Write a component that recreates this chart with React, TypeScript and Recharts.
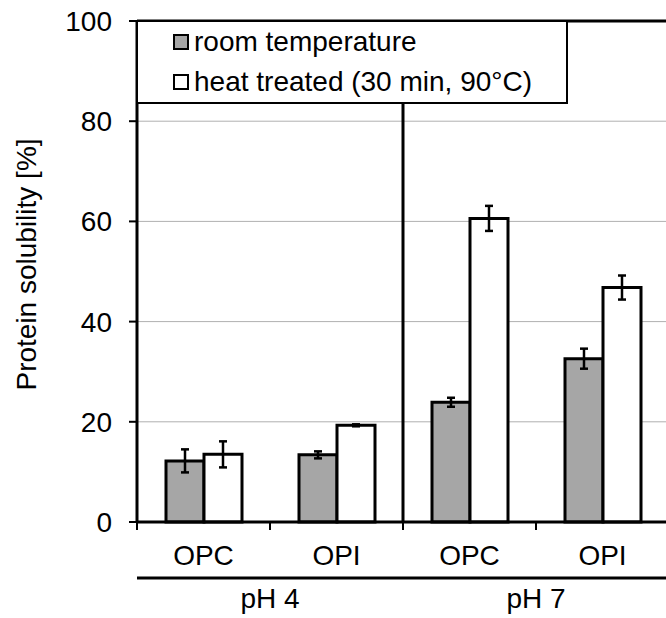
import { BarChart, Bar, XAxis, YAxis, CartesianGrid, ErrorBar, ReferenceLine, Legend } from 'recharts'

// values
const categories = ['OPC', 'OPI', 'OPC', 'OPI']
const groups = ['pH 4', 'pH 4', 'pH 7', 'pH 7']
const roomTemp = [12.2, 13.4, 23.9, 32.6]
const roomTempErr = [2.3, 0.7, 0.9, 2.0]
const heatTreated = [13.5, 19.3, 60.6, 46.8]
const heatTreatedErr = [2.6, 0.2, 2.5, 2.4]
const yTicks = [0, 20, 40, 60, 80, 100]

const seriesNames = ['room temperature', 'heat treated (30 min, 90°C)']
const seriesFills = ['#a6a6a6', '#ffffff']
const yTitle = 'Protein solubility [%]'

const data = categories.map((c, i) => ({
    key: groups[i] + '|' + c,
    name: c,
    group: groups[i],
    roomTemp: roomTemp[i],
    roomTempErr: roomTempErr[i],
    heatTreated: heatTreated[i],
    heatTreatedErr: heatTreatedErr[i],
}))

const FONT = "'Liberation Sans', Arial, sans-serif"

const CategoryTick = (props: any) => {
    const { x, y, payload, index } = props
    const half = payload.offset ?? 0
    return (
        <g>
            <line x1={x - half} x2={x - half} y1={y} y2={y + 8} stroke='#000' strokeWidth={2} />
            <text x={x} y={y + 43} textAnchor='middle' fontSize={28} fill='#000' fontFamily={FONT}>
                {data[index] ? data[index].name : payload.value}
            </text>
        </g>
    )
}

const GroupTick = (props: any) => {
    const { x, y, payload } = props
    return (
        <text x={x} y={y + 30} textAnchor='middle' fontSize={28} fill='#000' fontFamily={FONT}>
            {payload.value}
        </text>
    )
}

const YTitle = (props: any) => {
    const { viewBox } = props
    const cx = viewBox.x + 26
    const cy = viewBox.y + viewBox.height / 2 - 7
    return (
        <text x={cx} y={cy} transform={`rotate(-90, ${cx}, ${cy})`} textAnchor='middle'
            dominantBaseline='central' fontSize={28} fill='#000' fontFamily={FONT}>
            {yTitle}
        </text>
    )
}

const LegendBox = () => (
    <div style={{
        width: 432, height: 84, boxSizing: 'border-box', border: '2px solid #000',
        background: '#fff', paddingLeft: 35, fontSize: 28, fontFamily: FONT, color: '#000',
    }}>
        {seriesNames.map((n, i) => (
            <div key={n} style={{ display: 'flex', alignItems: 'center', height: 40, whiteSpace: 'nowrap' }}>
                <span style={{
                    display: 'inline-block', width: 16, height: 16, boxSizing: 'border-box',
                    border: '2px solid #000', background: seriesFills[i], marginRight: 5,
                }} />
                {n}
            </div>
        ))}
    </div>
)

const App = () => {
    return (
        <div style={{ position: 'absolute', left: 0, top: 0, width: 666, height: 618, overflow: 'hidden', background: '#fff' }}>
            <BarChart
                width={669}
                height={618}
                data={data}
                margin={{ top: 21, right: 0, bottom: 0, left: 0 }}
                barGap={0}
                style={{ fontFamily: FONT }}
            >
                <CartesianGrid vertical={false} stroke='#b0b0b0' strokeWidth={1} />
                <XAxis
                    dataKey='key'
                    height={56}
                    interval={0}
                    axisLine={{ stroke: '#000', strokeWidth: 3 }}
                    tickLine={false}
                    tickSize={0}
                    tickMargin={0}
                    tick={<CategoryTick />}
                />
                <XAxis
                    xAxisId='group'
                    dataKey='group'
                    allowDuplicatedCategory={false}
                    height={40}
                    interval={0}
                    axisLine={{ stroke: '#000', strokeWidth: 3 }}
                    tickLine={false}
                    tickSize={0}
                    tickMargin={0}
                    tick={<GroupTick />}
                />
                <YAxis
                    width={137}
                    domain={[0, 100]}
                    ticks={yTicks}
                    interval={0}
                    axisLine={{ stroke: '#000', strokeWidth: 3 }}
                    tickLine={{ stroke: '#000', strokeWidth: 2 }}
                    tickSize={8}
                    tickMargin={17}
                    tick={{ fontSize: 28, fill: '#000', fontFamily: FONT }}
                    label={{ value: yTitle, content: YTitle }}
                />
                <ReferenceLine y={100} stroke='#000' strokeWidth={3} />
                <ReferenceLine x={data[2].key} position='start' stroke='#000' strokeWidth={3} />
                <Bar dataKey='roomTemp' name={seriesNames[0]} fill={seriesFills[0]} stroke='#000' strokeWidth={3} barSize={38} isAnimationActive={false}>
                    <ErrorBar dataKey='roomTempErr' width={4} stroke='#000' strokeWidth={2.5} />
                </Bar>
                <Bar dataKey='heatTreated' name={seriesNames[1]} fill={seriesFills[1]} stroke='#000' strokeWidth={3} barSize={38} isAnimationActive={false}>
                    <ErrorBar dataKey='heatTreatedErr' width={4} stroke='#000' strokeWidth={2.5} />
                </Bar>
                <Legend
                    content={LegendBox}
                    layout='horizontal'
                    verticalAlign='middle'
                    align='center'
                    wrapperStyle={{ left: 136, top: 20, width: 432, height: 84 }}
                />
            </BarChart>
        </div>
    )
}

export default App
